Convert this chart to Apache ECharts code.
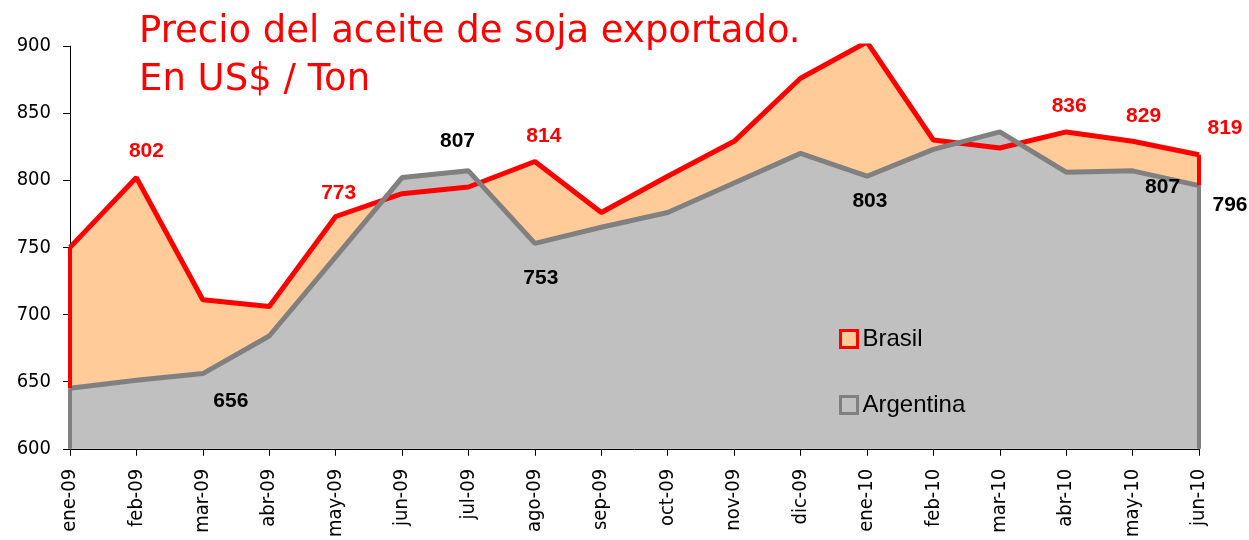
<!DOCTYPE html>
<html>
<head>
<meta charset="utf-8">
<script src="https://cdn.jsdelivr.net/npm/echarts@6/dist/echarts.min.js"></script>
<style>
html, body { margin: 0; padding: 0; background: #fff; }
#chart { width: 1249px; height: 540px; }
</style>
</head>
<body>
<div id="chart"></div>
<script>
// categorias (meses)
const months = ['ene-09', 'feb-09', 'mar-09', 'abr-09', 'may-09', 'jun-09', 'jul-09', 'ago-09', 'sep-09',
    'oct-09', 'nov-09', 'dic-09', 'ene-10', 'feb-10', 'mar-10', 'abr-10', 'may-10', 'jun-10'];
// precios US$/Ton
const brasil = [750, 802, 711, 706, 773, 790, 795, 814, 776, 803, 829, 876, 903, 830, 824, 836, 829, 819];
const argentina = [645, 651, 656, 684, 743, 802, 807, 753, 765, 776, 798, 820, 803, 823, 836, 806, 807, 796];
const yTicks = [600, 650, 700, 750, 800, 850, 900];

// que puntos llevan etiqueta y donde (desplazamiento en px)
const brasilLabelOffsets = { 1: [10, -26], 4: [3, -23], 7: [9, -25], 12: [7, -20], 15: [3, -26], 16: [11, -25], 17: [26, -27] };
const argLabelOffsets = { 2: [28, 28], 6: [-11, -30], 7: [6, 35], 12: [3, 25], 16: [30, 16], 17: [31, 20] };

const RED = '#FF0000';
const PEACH = '#FFCC99';
const GRAY_LINE = '#808080';
const GRAY_FILL = '#C0C0C0';

function buildData(values, offsets, color) {
    return values.map((v, i) => {
        if (!offsets[i]) return v;
        return {
            value: v,
            label: {
                show: true,
                position: 'inside',
                offset: offsets[i],
                color: color,
                fontFamily: 'Liberation Sans',
                fontWeight: 'bold',
                fontSize: 21
            }
        };
    });
}

const last = months.length - 1;

const myChart = echarts.init(document.getElementById('chart'));
const option = {
    animation: false,
    backgroundColor: '#fff',
    title: {
        text: 'Precio del aceite de soja exportado.\nEn US$ / Ton',
        left: 134,
        top: 3,
        textStyle: {
            color: RED,
            fontFamily: 'DejaVu Sans',
            fontWeight: 'normal',
            fontSize: 37,
            lineHeight: 48
        }
    },
    legend: {
        orient: 'vertical',
        left: 834,
        top: 322,
        itemGap: 42,
        itemWidth: 17,
        itemHeight: 17,
        icon: 'rect',
        textStyle: { fontFamily: 'Liberation Sans', fontSize: 24, color: '#000', padding: [0, 0, 0, 0] },
        data: [
            { name: 'Brasil', itemStyle: { color: PEACH, borderColor: RED, borderWidth: 3 } },
            { name: 'Argentina', itemStyle: { color: GRAY_FILL, borderColor: GRAY_LINE, borderWidth: 3 } }
        ]
    },
    grid: { left: 70, right: 50, top: 46, bottom: 90 },
    xAxis: {
        type: 'category',
        boundaryGap: false,
        data: months,
        axisLine: { lineStyle: { color: '#000', width: 1 } },
        axisTick: { alignWithLabel: true, length: 7, lineStyle: { color: '#000' } },
        axisLabel: {
            rotate: 90,
            interval: 0,
            margin: 20,
            color: '#000',
            fontFamily: 'DejaVu Sans Condensed',
            fontSize: 20
        }
    },
    yAxis: {
        type: 'value',
        min: yTicks[0],
        max: yTicks[yTicks.length - 1],
        interval: 50,
        axisLine: { show: true, lineStyle: { color: '#000', width: 1 } },
        axisTick: { show: true, length: 7, lineStyle: { color: '#000' } },
        splitLine: { show: false },
        axisLabel: {
            margin: 19,
            color: '#000',
            fontFamily: 'DejaVu Sans Condensed',
            fontSize: 20
        }
    },
    series: [
        {
            name: 'Brasil',
            type: 'line',
            data: buildData(brasil, brasilLabelOffsets, RED),
            symbol: 'circle',
            symbolSize: 1,
            showSymbol: true,
            itemStyle: { color: RED },
            lineStyle: { color: RED, width: 5 },
            areaStyle: { color: PEACH, opacity: 1, origin: 'start' },
            markLine: {
                silent: true,
                symbol: 'none',
                label: { show: false },
                lineStyle: { color: RED, width: 4, type: 'solid' },
                data: [
                    [{ coord: [0, argentina[0]] }, { coord: [0, brasil[0]] }],
                    [{ coord: [last, argentina[last]] }, { coord: [last, brasil[last]] }]
                ]
            }
        },
        {
            name: 'Argentina',
            type: 'line',
            data: buildData(argentina, argLabelOffsets, '#000'),
            symbol: 'circle',
            symbolSize: 1,
            showSymbol: true,
            itemStyle: { color: GRAY_LINE },
            lineStyle: { color: GRAY_LINE, width: 5 },
            areaStyle: { color: GRAY_FILL, opacity: 1, origin: 'start' },
            markLine: {
                silent: true,
                symbol: 'none',
                label: { show: false },
                lineStyle: { color: GRAY_LINE, width: 4, type: 'solid' },
                data: [
                    [{ coord: [0, yTicks[0]] }, { coord: [0, argentina[0]] }],
                    [{ coord: [last, yTicks[0]] }, { coord: [last, argentina[last]] }]
                ]
            }
        }
    ]
};

myChart.setOption(option);
window.addEventListener('resize', function () {
    myChart.resize();
});
</script>
</body>
</html>
